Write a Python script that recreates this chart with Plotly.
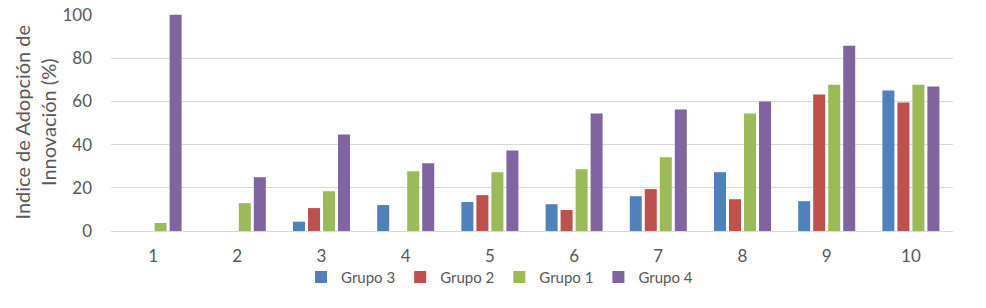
import plotly.graph_objects as go

categories = ["1", "2", "3", "4", "5", "6", "7", "8", "9", "10"]
grupo3 = [0, 0, 4.3, 12.0, 13.4, 12.4, 16.1, 27.2, 13.8, 65.0]
grupo2 = [0, 0, 10.6, 0, 16.6, 9.7, 19.4, 14.7, 63.1, 59.4]
grupo1 = [3.7, 12.9, 18.4, 27.6, 27.2, 28.6, 34.1, 54.4, 67.7, 67.7]
grupo4 = [100, 24.9, 44.7, 31.3, 37.3, 54.4, 56.2, 59.9, 85.7, 66.8]
y_ticks = [0, 20, 40, 60, 80, 100]
y_title = "Indice de Adopción de<br>Innovación (%)"

series = [
    ("Grupo 3", grupo3, "#4F81BD"),
    ("Grupo 2", grupo2, "#C0504D"),
    ("Grupo 1", grupo1, "#9BBB59"),
    ("Grupo 4", grupo4, "#8064A2"),
]

fig = go.Figure()
for name, vals, color in series:
    fig.add_trace(go.Bar(x=categories, y=vals, name=name, marker=dict(color=color, line=dict(width=0))))

font_family = "Lato, 'Open Sans', sans-serif"
fig.update_layout(
    width=986, height=308,
    margin=dict(l=111, r=33, t=14, b=77, autoexpand=False),
    paper_bgcolor="white", plot_bgcolor="white",
    barmode="group", bargap=0.287, bargroupgap=0.2,
    font=dict(family=font_family, size=17, color="#595959"),
    showlegend=True,
    legend=dict(orientation="h", x=0.2257, xanchor="left", y=-0.213, yanchor="middle",
                bgcolor="rgba(0,0,0,0)",
                font=dict(size=15, color="#595959"), itemwidth=30, tracegroupgap=0,
                itemsizing="constant"),
    xaxis=dict(type="category", showgrid=False, showline=True, linecolor="#D9D9D9", linewidth=1,
               ticks="", ticklabelstandoff=10, tickfont=dict(size=17, color="#595959")),
    yaxis=dict(range=[0, 100.4], tickvals=y_ticks, showgrid=True, gridcolor="#D9D9D9", gridwidth=1,
               zeroline=False, showline=False, ticks="", ticklen=0, ticklabelstandoff=18,
               ticklabeloverflow="allow",
               tickfont=dict(size=17, color="#595959")),
    annotations=[dict(text=y_title, textangle=-90, xref="paper", yref="paper",
                      x=-0.0914, y=0.5, xanchor="center", yanchor="middle", showarrow=False,
                      align="center", font=dict(size=20, color="#595959"))],
)

fig.write_html("out.html", config={"displayModeBar": False},
               post_script="document.body.style.margin='0';")
